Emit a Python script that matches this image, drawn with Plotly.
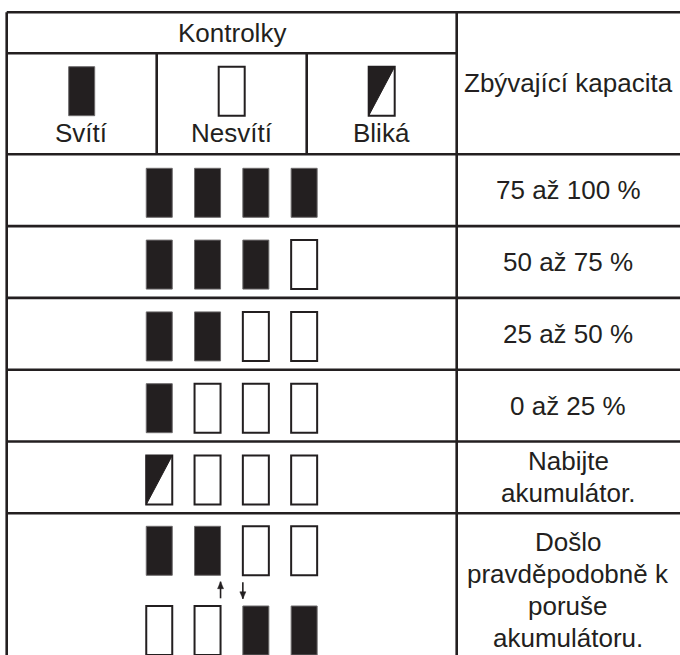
import plotly.graph_objects as go

# ---------------- data ----------------
header_title = "Kontrolky"
capacity_header = "Zbývající kapacita"
legend_labels = ["Svítí", "Nesvítí", "Bliká"]
legend_states = ["on", "off", "blink"]

row_states = [
    ["on", "on", "on", "on"],
    ["on", "on", "on", "off"],
    ["on", "on", "off", "off"],
    ["on", "off", "off", "off"],
    ["blink", "off", "off", "off"],
]
fault_top_states = ["on", "on", "off", "off"]
fault_bottom_states = ["off", "off", "on", "on"]

capacity_labels = [
    ["75 až 100 %"],
    ["50 až 75 %"],
    ["25 až 50 %"],
    ["0 až 25 %"],
    ["Nabijte", "akumulátor."],
    ["Došlo", "pravděpodobně k", "poruše", "akumulátoru."],
]

# ---------------- layout constants ----------------
W, H = 680, 655
INK = "#231f20"
FONT = "Liberation Sans, Arial, Helvetica, sans-serif"
FS = 26
LW = 2.6

X_LEFT = 6.7
X_DIV = 456.7
Y_TOP = 12.3
Y_SUB = 53.3
Y_HEAD = 154.3
ROW_H = 71.8
SUB_W = (X_DIV - X_LEFT) / 3
RIGHT_CX = 568
LEFT_CX = (X_LEFT + X_DIV) / 2
LAMP_W, LAMP_H = 26, 49
LAMP_STEP = 48.3
LINE_STEP = 32

shapes = []
annotations = []


def hline(y, x0, x1):
    shapes.append(dict(type="line", xref="x", yref="y", x0=x0, x1=x1, y0=y, y1=y,
                       line=dict(color=INK, width=LW)))


def vline(x, y0, y1):
    shapes.append(dict(type="line", xref="x", yref="y", x0=x, x1=x, y0=y0, y1=y1,
                       line=dict(color=INK, width=LW)))


def lamp(cx, top, state):
    x0, x1 = cx - LAMP_W / 2, cx + LAMP_W / 2
    y0, y1 = top, top + LAMP_H
    if state == "on":
        shapes.append(dict(type="rect", xref="x", yref="y", x0=x0, x1=x1, y0=y0, y1=y1,
                           fillcolor=INK, line=dict(color="#6d6b6c", width=1)))
    else:
        shapes.append(dict(type="rect", xref="x", yref="y", x0=x0, x1=x1, y0=y0, y1=y1,
                           fillcolor="white", line=dict(color=INK, width=2)))
        if state == "blink":
            shapes.append(dict(type="path", xref="x", yref="y",
                               path=f"M {x0},{y0} L {x1},{y0} L {x0},{y1} Z",
                               fillcolor=INK, line=dict(color=INK, width=1)))


def text(x, y, s):
    annotations.append(dict(x=x, y=y, xref="x", yref="y", text=s, showarrow=False,
                            xanchor="center", yanchor="middle",
                            font=dict(family=FONT, size=FS, color=INK)))


def arrow(x, y_tail, y_tip):
    shapes.append(dict(type="line", xref="x", yref="y", x0=x, x1=x, y0=y_tail, y1=y_tip,
                       line=dict(color=INK, width=1.6)))
    d = 1 if y_tip > y_tail else -1
    hy = y_tip - d * 7
    shapes.append(dict(type="path", xref="x", yref="y",
                       path=f"M {x-3},{hy} L {x+3},{hy} L {x},{y_tip} Z",
                       fillcolor=INK, line=dict(color=INK, width=0.5)))


# ---------------- grid ----------------
n_rows = len(capacity_labels)
row_tops = [Y_HEAD + i * ROW_H for i in range(n_rows)]

hline(Y_TOP, X_LEFT, W + 5)
hline(Y_SUB, X_LEFT, X_DIV)
for yt in row_tops:
    hline(yt, X_LEFT, W + 5)
vline(X_LEFT, Y_TOP, H + 5)
vline(X_DIV, Y_TOP, H + 5)
for k in (1, 2):
    vline(X_LEFT + k * SUB_W, Y_SUB, Y_HEAD)

# ---------------- header ----------------
text(LEFT_CX, (Y_TOP + Y_SUB) / 2, header_title)
text(RIGHT_CX, (Y_TOP + Y_HEAD) / 2, capacity_header)
for k, (lab, st) in enumerate(zip(legend_labels, legend_states)):
    cx = X_LEFT + (k + 0.5) * SUB_W
    lamp(cx, Y_SUB + 13.4, st)
    text(cx, 133, lab)

# ---------------- rows ----------------
lamp_cx = [LEFT_CX + (i - 1.5) * LAMP_STEP for i in range(4)]
for r, states in enumerate(row_states):
    top = row_tops[r]
    for cx, st in zip(lamp_cx, states):
        lamp(cx, top + 14, st)

# fault row
ftop = row_tops[-1]
for cx, st in zip(lamp_cx, fault_top_states):
    lamp(cx, ftop + 13, st)
for cx, st in zip(lamp_cx, fault_bottom_states):
    lamp(cx, ftop + 92.7, st)
arrow(lamp_cx[1] + LAMP_W / 2, ftop + 85, ftop + 68.4)
arrow(lamp_cx[2] - LAMP_W / 2, ftop + 69, ftop + 85.5)

# capacity texts
for r, lines in enumerate(capacity_labels):
    top = row_tops[r]
    if r < n_rows - 1:
        cy = top + ROW_H / 2
    else:
        cy = top + 76.5
    n = len(lines)
    for j, s in enumerate(lines):
        text(RIGHT_CX, cy + (j - (n - 1) / 2) * LINE_STEP, s)

fig = go.Figure()
fig.add_trace(go.Scatter(x=[0, W], y=[0, H], mode="markers",
                         marker=dict(opacity=0), hoverinfo="skip", showlegend=False))
fig.update_layout(
    width=W, height=H, margin=dict(l=0, r=0, t=0, b=0),
    paper_bgcolor="white", plot_bgcolor="white",
    xaxis=dict(range=[0, W], visible=False, fixedrange=True),
    yaxis=dict(range=[H, 0], visible=False, fixedrange=True),
    shapes=shapes, annotations=annotations, showlegend=False,
)
fig.write_html("out.html", config={"displayModeBar": False},
               post_script="document.body.style.margin='0';")
